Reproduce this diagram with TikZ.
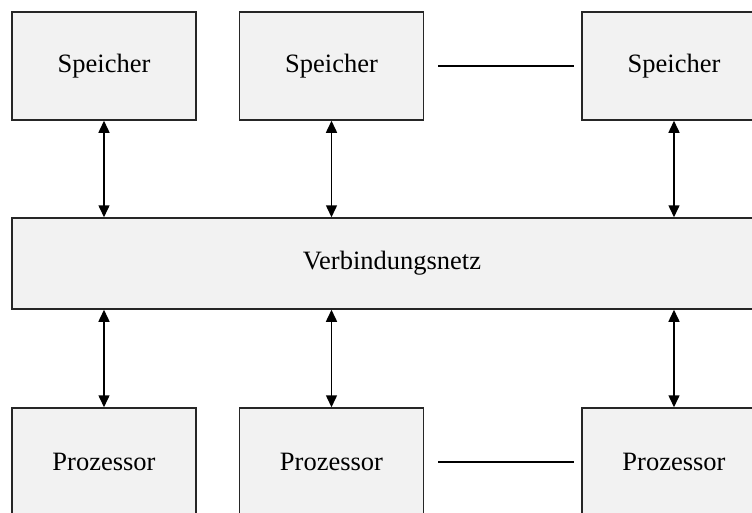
\documentclass[tikz,border=0pt]{standalone}
\usepackage{fontspec}
\setmainfont{Liberation Serif}
\usetikzlibrary{positioning, arrows.meta}

\begin{document}
\begin{tikzpicture}[x=1pt, y=-1pt]
      % Define styles for nodes
      \tikzset{
        unitbox/.style={rectangle, draw=black!85, line width=1.5pt, fill=black!5,
          minimum width=184pt, minimum height=108pt, inner sep=0pt,
          font=\fontsize{26.5}{30}\selectfont},
        netbox/.style={unitbox, minimum width=760pt, minimum height=91pt},
        link/.style={line width=1.5pt, >={Triangle[length=12pt, width=11pt]}}
      }
      \useasboundingbox (0,0) rectangle (752,512);

      % Memory row
      \node[unitbox] at (104,66) (mem1) {Speicher};
      \node[unitbox, right=42pt of mem1] (mem2) {Speicher};
      \node[unitbox, right=157pt of mem2] (mem3) {Speicher};

      % Interconnect
      \node[netbox] at (392,263.5) (net) {Verbindungsnetz};

      % Processor row
      \node[unitbox] at (104,462) (proc1) {Prozessor};
      \node[unitbox, right=42pt of proc1] (proc2) {Prozessor};
      \node[unitbox, right=157pt of proc2] (proc3) {Prozessor};

      % Connections to the network
      \draw[link, <->] (mem1.south) -- (mem1.south |- net.north);
      \draw[link, <->] (mem2.south) -- (mem2.south |- net.north);
      \draw[link, <->] (mem3.south) -- (mem3.south |- net.north);
      \draw[link, <->] (net.south -| proc1.north) -- (proc1.north);
      \draw[link, <->] (net.south -| proc2.north) -- (proc2.north);
      \draw[link, <->] (net.south -| proc3.north) -- (proc3.north);

      % Dots between the last two units of a row
      \draw[line width=1.5pt] ([xshift=14pt]mem2.east) -- ([xshift=-7pt]mem3.west);
      \draw[line width=1.5pt] ([xshift=14pt]proc2.east) -- ([xshift=-7pt]proc3.west);
    \end{tikzpicture}
\end{document}
